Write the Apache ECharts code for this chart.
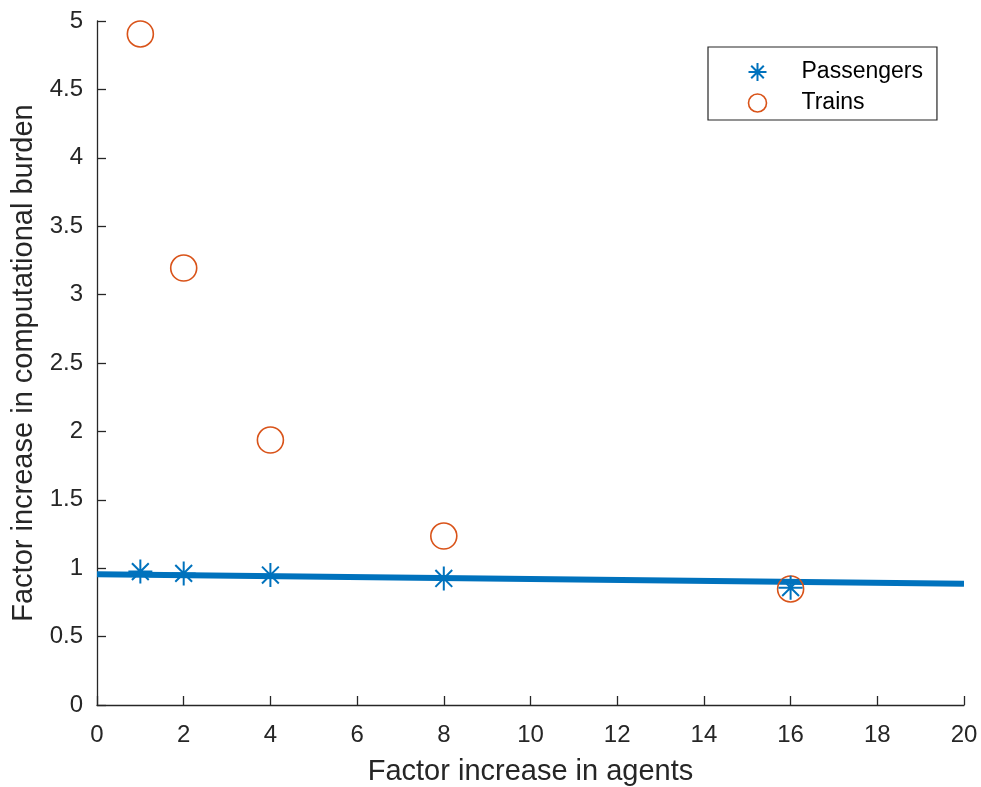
<!DOCTYPE html>
<html>
<head>
<meta charset="utf-8">
<script src="https://cdn.jsdelivr.net/npm/echarts@6/dist/echarts.min.js"></script>
<style>html,body{margin:0;padding:0;background:#fff;}#c{width:981px;height:787px;}</style>
</head>
<body>
<div id="c"></div>
<script>
const agents = [1, 2, 4, 8, 16];
const passengers = [0.975, 0.962, 0.950, 0.925, 0.858];
const trains = [4.905, 3.194, 1.937, 1.235, 0.848];
const fitX = [0, 20];
const fitY = [0.955, 0.887];
const xTicks = [0, 20, 2];
const yTicks = [0, 5, 0.5];

const txt = '#262626';
const font = 'Liberation Sans, Arial, Helvetica, sans-serif';
const star = 'path://M0,-1 L0,1 M-1,0 L1,0 M-0.7,-0.7 L0.7,0.7 M-0.7,0.7 L0.7,-0.7';

const chart = echarts.init(document.getElementById('c'));
chart.setOption({
  animation: false,
  grid: {left: 97, top: 21, right: 17, bottom: 82, containLabel: false, outerBoundsMode: 'none'},
  xAxis: {
    type: 'value', min: xTicks[0], max: xTicks[1], interval: xTicks[2],
    name: 'Factor increase in agents', nameLocation: 'middle', nameGap: 52,
    nameTextStyle: {color: txt, fontSize: 29, fontFamily: font},
    axisLine: {lineStyle: {color: txt, width: 1.3}},
    axisTick: {inside: true, length: 9, lineStyle: {color: txt, width: 1.3}},
    axisLabel: {color: txt, fontSize: 24, fontFamily: font, margin: 18},
    splitLine: {show: false}
  },
  yAxis: {
    type: 'value', min: yTicks[0], max: yTicks[1], interval: yTicks[2],
    name: 'Factor increase in computational burden', nameLocation: 'middle', nameGap: 49,
    nameTextStyle: {color: txt, fontSize: 29, fontFamily: font},
    axisLine: {show: true, lineStyle: {color: txt, width: 1.3}},
    axisTick: {show: true, inside: true, length: 9, lineStyle: {color: txt, width: 1.3}},
    axisLabel: {color: txt, fontSize: 24, fontFamily: font, margin: 14},
    splitLine: {show: false}
  },
  legend: {
    orient: 'vertical', left: 708, top: 47,
    padding: [13, 14, 5, 38],
    itemGap: 7,
    itemWidth: 18, itemHeight: 18,
    borderColor: txt, borderWidth: 1.2, borderRadius: 0,
    backgroundColor: '#fff',
    textStyle: {color: '#000', fontSize: 23, lineHeight: 24, fontFamily: font, padding: [0, 0, 0, 30]},
    data: [
      {name: 'Passengers', icon: star, itemStyle: {color: 'none', borderColor: '#0072BD', borderWidth: 2}},
      {name: 'Trains', icon: 'circle', itemStyle: {color: 'none', borderColor: '#D95319', borderWidth: 1.6}}
    ]
  },
  series: [
    {
      name: 'Fit', type: 'line', data: fitX.map((x, i) => [x, fitY[i]]),
      showSymbol: false, symbol: 'none', lineStyle: {color: '#0072BD', width: 6}, z: 1
    },
    {
      name: 'Passengers', type: 'scatter', symbol: star, symbolSize: 24,
      data: agents.map((x, i) => [x, passengers[i]]),
      itemStyle: {color: 'none', borderColor: '#0072BD', borderWidth: 2, opacity: 1}, z: 3
    },
    {
      name: 'Trains', type: 'scatter', symbol: 'circle', symbolSize: 26,
      data: agents.map((x, i) => [x, trains[i]]),
      itemStyle: {color: 'none', borderColor: '#D95319', borderWidth: 1.6, opacity: 1}, z: 2
    }
  ]
});
</script>
</body>
</html>
